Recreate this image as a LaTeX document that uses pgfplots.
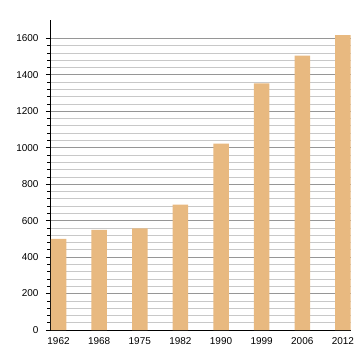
\documentclass[border=0pt]{standalone}
\usepackage{pgfplots}
\pgfplotsset{compat=1.18}
\usepackage{fontspec}
\setmainfont{Liberation Sans}
\definecolor{barc}{RGB}{232,185,128}
\definecolor{majg}{RGB}{150,150,150}
\definecolor{ming}{RGB}{200,200,200}
\begin{document}
\begin{tikzpicture}
\path (-50bp,-30bp) rectangle (310bp,330bp);
\begin{axis}[
  at={(0,0)}, anchor=south west,
  scale only axis, width=301bp, height=310bp,
  xmin=-0.21, xmax=7.2, ymin=0, ymax=1700,
  axis x line*=bottom, axis y line*=left,
  axis line style={black, line width=0.8pt},
  xtick=data,
  xticklabels={1962,1968,1975,1982,1990,1999,2006,2012},
  ytick={0,200,...,1600},
  minor y tick num=4,
  tick align=outside,
  major tick length=4bp, minor tick length=2.5bp,
  x tick style={draw=none},
  tick style={black, line width=0.6pt},
  ymajorgrids, yminorgrids,
  major grid style={majg, line width=0.6pt},
  minor grid style={ming, line width=0.6pt},
  tick label style={font=\fontsize{10}{11}\selectfont},
  /pgf/number format/assume math mode=true,
  /pgf/number format/set thousands separator={},
  yticklabel style={xshift=-4bp},
  xticklabel style={yshift=-0.5bp},
]
\addplot[ybar, bar width=15.5bp, fill=barc, draw=none] coordinates {
  (0,500) (1,549) (2,557) (3,687) (4,1022) (5,1352) (6,1505) (7,1617)
};
\end{axis}
\end{tikzpicture}
\end{document}
